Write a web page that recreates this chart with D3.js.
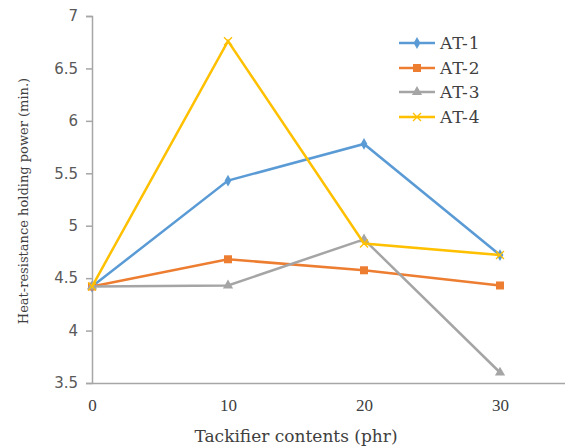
<!DOCTYPE html>
<html><head><meta charset="utf-8">
<script src="https://cdn.jsdelivr.net/npm/d3@7"></script>
<style>html,body{margin:0;padding:0;background:#fff;}svg{display:block;}</style>
</head><body>
<script>
const xValues = [0, 10, 20, 30];
const seriesNames = ["AT-1", "AT-2", "AT-3", "AT-4"];
const at1 = [4.42, 5.43, 5.78, 4.72];
const at2 = [4.42, 4.68, 4.575, 4.43];
const at3 = [4.42, 4.43, 4.87, 3.60];
const at4 = [4.42, 6.76, 4.83, 4.72];
const yTicks = [3.5, 4, 4.5, 5, 5.5, 6, 6.5, 7];
const xTicks = [0, 10, 20, 30];
const xTitle = "Tackifier contents (phr)";
const yTitle = "Heat-resistance holding power (min.)";

const series = [
  {name: seriesNames[0], values: at1, color: "#5B9BD5", marker: "diamond"},
  {name: seriesNames[1], values: at2, color: "#ED7D31", marker: "square"},
  {name: seriesNames[2], values: at3, color: "#A5A5A5", marker: "triangle"},
  {name: seriesNames[3], values: at4, color: "#FFC000", marker: "x"}
];

const W = 565, H = 447;
const svg = d3.select("body").append("svg").attr("width", W).attr("height", H);
const x = d3.scaleLinear().domain([0, 35]).range([92, 568]);
const y = d3.scaleLinear().domain([3.5, 7]).range([383, 16]);
const serif = "'DejaVu Serif', 'Liberation Serif', serif";
const axisColor = "#A6A6A6";
const textColor = "#404040";

// y axis
const gy = svg.append("g").attr("transform", `translate(${x(0)},0)`)
  .call(d3.axisLeft(y).tickValues(yTicks).tickSize(6).tickPadding(8).tickFormat(d3.format("")));
gy.select(".domain").attr("stroke", axisColor).attr("stroke-width", 1.5);
gy.selectAll(".tick line").attr("stroke", axisColor).attr("stroke-width", 1.5);
gy.selectAll(".tick text").attr("fill", "#595959").style("font-family", "'DejaVu Sans', sans-serif").style("font-size", "15px");

// x axis
const gx = svg.append("g").attr("transform", `translate(0,${y(3.5)})`)
  .call(d3.axisBottom(x).tickValues(xTicks).tickSize(0).tickPadding(16).tickFormat(d3.format("d")));
gx.select(".domain").attr("stroke", axisColor).attr("stroke-width", 1.5);
gx.selectAll(".tick text").attr("fill", textColor).style("font-family", "'Liberation Serif', serif").style("font-size", "17px");

// titles
svg.append("text").attr("x", 296).attr("y", 442).attr("text-anchor", "middle")
  .style("font-family", serif).style("font-size", "17px").attr("fill", textColor).text(xTitle);
svg.append("text").attr("transform", "translate(28,201) rotate(-90)").attr("text-anchor", "middle")
  .style("font-family", serif).style("font-size", "13px").attr("fill", textColor).text(yTitle);

function drawMarker(g, type, color, cx, cy) {
  if (type === "diamond") {
    g.append("path").attr("d", d3.symbol(d3.symbolDiamond, 40)()).attr("transform", `translate(${cx},${cy})`).attr("fill", color);
  } else if (type === "square") {
    g.append("rect").attr("x", cx - 4).attr("y", cy - 4).attr("width", 8).attr("height", 8).attr("fill", color);
  } else if (type === "triangle") {
    g.append("path").attr("d", d3.symbol(d3.symbolTriangle, 45)()).attr("transform", `translate(${cx},${cy})`).attr("fill", color);
  } else if (type === "x") {
    g.append("path").attr("d", `M${cx-4},${cy-4}L${cx+4},${cy+4}M${cx-4},${cy+4}L${cx+4},${cy-4}`).attr("stroke", color).attr("stroke-width", 1.3);
  }
}

const line = d3.line().x((d, i) => x(xValues[i])).y(d => y(d));
series.forEach(s => {
  const g = svg.append("g");
  g.append("path").datum(s.values).attr("d", line).attr("fill", "none").attr("stroke", s.color).attr("stroke-width", 2.5);
  s.values.forEach((v, i) => drawMarker(g, s.marker, s.color, x(xValues[i]), y(v)));
});

// legend
const legY = [43, 68, 92, 117];
series.forEach((s, i) => {
  const g = svg.append("g");
  g.append("line").attr("x1", 399).attr("x2", 435).attr("y1", legY[i]).attr("y2", legY[i]).attr("stroke", s.color).attr("stroke-width", 2.5);
  drawMarker(g, s.marker, s.color, 417, legY[i]);
  g.append("text").attr("x", 440).attr("y", legY[i] + 6).style("font-family", serif).style("font-size", "17px")
    .style("letter-spacing", "0.8px").attr("fill", textColor).text(s.name);
});
</script>
</body></html>
